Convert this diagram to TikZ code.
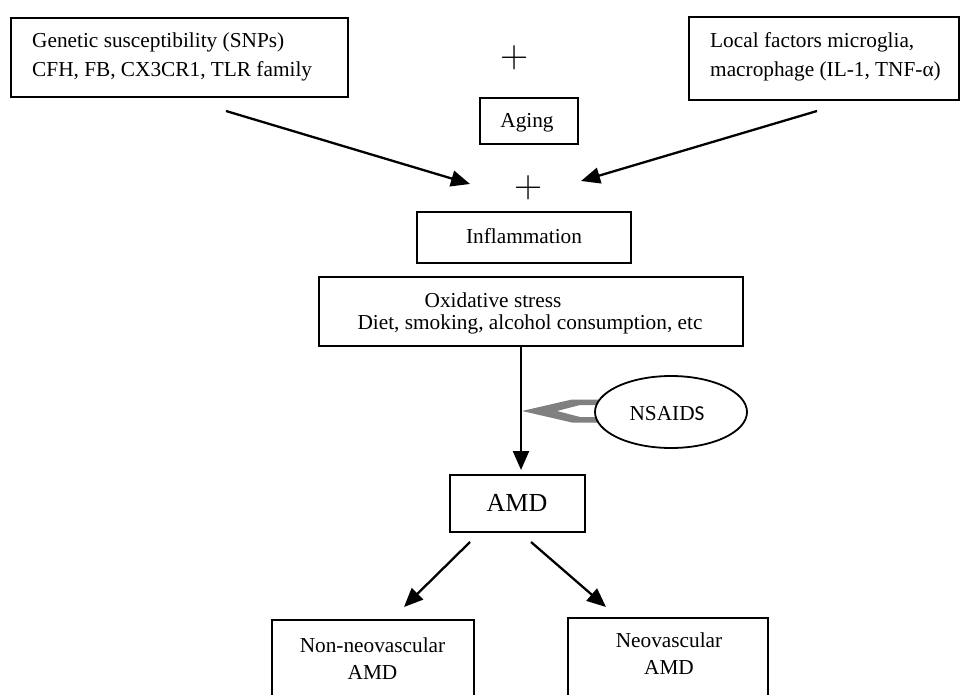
\documentclass[tikz,border=0pt]{standalone}
\usepackage{fontspec}
\setmainfont{Liberation Serif}
\newfontfamily\calib{Carlito}
\newfontfamily\lmfont{Latin Modern Roman}
\usetikzlibrary{arrows.meta,shapes.geometric}
\tikzset{
  box/.style={draw, line width=1.8pt, inner sep=0pt, fill=white},
  txt/.style={inner sep=0pt, font=\fontsize{21.3}{28}\selectfont},
  bigtxt/.style={inner sep=0pt, font=\fontsize{26}{30}\selectfont},
  plus/.style={inner sep=0pt, font=\lmfont\fontsize{39}{40}\selectfont},
  arr/.style={line width=2.3pt, -{Triangle[length=19pt,width=16pt]}},
  wedge/.style={fill=black!50, draw=none},
}
\begin{document}
\begin{tikzpicture}[x=1pt,y=-1pt]
\useasboundingbox (0,0) rectangle (960,695);
\clip (0,0) rectangle (960,695);
\fill[white] (0,0) rectangle (960,695);

% boxes
\node[box, minimum width=337, minimum height=79] (gen) at (179.5,57.5) {};
\node[box, minimum width=270, minimum height=83] (loc) at (824,58.5) {};
\node[box, minimum width=98, minimum height=46] (aging) at (529,121) {};
\node[box, minimum width=214, minimum height=51] (infl) at (524,237.5) {};
\node[box, minimum width=424, minimum height=69] (ox) at (531,311.5) {};
\node[box, minimum width=135, minimum height=57] (amd) at (517.5,503.5) {};
\node[box, minimum width=202, minimum height=120] (non) at (373,680) {};
\node[box, minimum width=200, minimum height=122] (neo) at (668,679) {};

% texts
\node[txt, anchor=base west] (gent1) at (32,48) {Genetic susceptibility (SNPs)};
\node[txt, anchor=base west] (gent2) at (32,77) {CFH, FB, CX3CR1, TLR family};
\node[txt, anchor=base west] (loct1) at (710,48) {Local factors microglia,};
\node[txt, anchor=base west] (loct2) at (710,77) {macrophage (IL-1, TNF-α)};
\node[txt, anchor=base] (agingt) at (527,128) {Aging};
\node[txt, anchor=base] (inflt) at (524,243) {Inflammation};
\node[txt, anchor=base] (oxt1) at (493,307) {Oxidative stress};
\node[txt, anchor=base] (oxt2) at (530,329) {Diet, smoking, alcohol consumption, etc};
\node[bigtxt, anchor=base] (amdt) at (517,511) {AMD};
\node[txt, anchor=base] (nont1) at (372.5,652) {Non-neovascular};
\node[txt, anchor=base] (nont2) at (372.5,679) {AMD};
\node[txt, anchor=base] (neot1) at (669,647) {Neovascular};
\node[txt, anchor=base] (neot2) at (669,674) {AMD};

% plus signs
\node[plus] (plus1) at (515,58) {+};
\node[plus] (plus2) at (529,188) {+};

% arrows from top boxes
\coordinate (g0) at (226,111);
\coordinate (g1) at (470,184);
\coordinate (l0) at (817,111);
\coordinate (l1) at (581,181);
\draw[arr] (g0) -- (g1);
\draw[arr] (l0) -- (l1);

% main vertical arrow
\coordinate (v0) at (521,346.5);
\coordinate (v1) at (521,470);
\draw[arr] (v0) -- (v1);

% NSAIDS inhibitor wedge
\fill[wedge] (601,399.5) -- (572,399.5) -- (522,411) -- (572,422.5) -- (601,422.5)
  -- (601,417) -- (580,417) -- (557,411) -- (580,405) -- (601,405) -- cycle;
\node[draw, ellipse, line width=1.8pt, fill=white, minimum width=152, minimum height=72, inner sep=0pt] (nsaids) at (671,412) {};
\node[txt, anchor=base] (nsaidst) at (667,420) {NSAID\calib S};

% AMD branches
\coordinate (a0) at (470,542);
\coordinate (a1) at (404,607);
\coordinate (b0) at (531,542);
\coordinate (b1) at (606,607);
\draw[arr] (a0) -- (a1);
\draw[arr] (b0) -- (b1);
\end{tikzpicture}
\end{document}
